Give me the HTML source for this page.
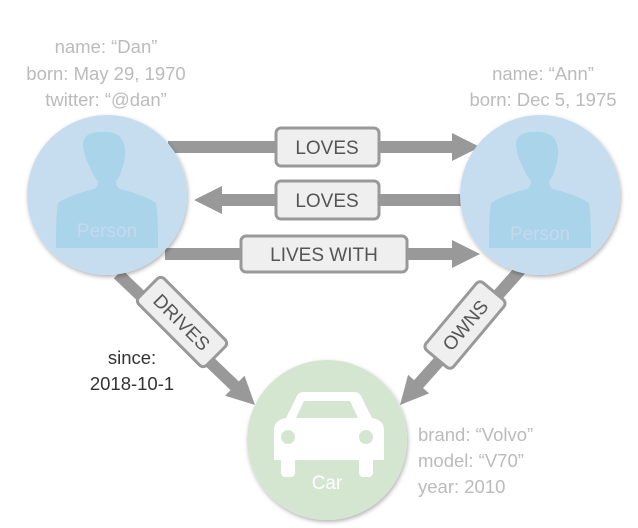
<!DOCTYPE html>
<html><head><style>
body{margin:0;background:#fff;}
svg{display:block;font-family:"Liberation Sans",sans-serif;}
</style></head><body>
<svg width="638" height="528" viewBox="0 0 638 528">
<defs>
<filter id="sh" x="-20%" y="-20%" width="140%" height="140%"><feDropShadow dx="1" dy="2" stdDeviation="2" flood-color="#000" flood-opacity="0.3"/></filter>
</defs>
<g stroke="#999" stroke-width="12" fill="none">
<line x1="168" y1="147" x2="455" y2="147"/>
<line x1="462" y1="200" x2="219" y2="200"/>
<line x1="165" y1="254" x2="455" y2="254"/>
<line x1="118" y1="274" x2="237" y2="388"/>
<line x1="522" y1="268" x2="416" y2="387"/>
</g>
<g fill="#999">
<polygon points="452,133 480,147 452,161"/>
<polygon points="222,186 194,200 222,214"/>
<polygon points="452,240 480,254 452,268"/>
<polygon points="225.1,395.8 255,405 244.5,375.6"/>
<polygon points="408.1,374.8 400,405 429.1,393.4"/>
</g>
<circle cx="107" cy="195" r="80" fill="#c6ddf0" filter="url(#sh)"/>
<circle cx="540" cy="195" r="80" fill="#c6ddf0" filter="url(#sh)"/>
<circle cx="327" cy="440" r="80" fill="#d4e6d0" filter="url(#sh)"/>
<g fill="#a9d4ea">
<path d="M83,145 q0,-12 15,-13 q22,-2 26,12 q3,10 -2,25 q-2,8 -6,12 q0,6 4,8 q24,6 36,14 q2,10 2,45 l-102,0 q0,-35 2,-45 q12,-8 36,-14 q4,-2 4,-8 q-5,-5 -8,-14 q-6,-10 -7,-22z"/>
<path d="M516,145 q0,-12 15,-13 q22,-2 26,12 q3,10 -2,25 q-2,8 -6,12 q0,6 4,8 q24,6 36,14 q2,10 2,45 l-102,0 q0,-35 2,-45 q12,-8 36,-14 q4,-2 4,-8 q-5,-5 -8,-14 q-6,-10 -7,-22z"/>
</g>
<text x="107" y="237" font-size="19" fill="#c6d8ee" text-anchor="middle">Person</text>
<text x="540" y="240" font-size="19" fill="#c6d8ee" text-anchor="middle">Person</text>
<g fill="#fff">
<path d="M300,392 h54 q6,0 8,6 l10,20 q12,2 12,12 v30 h-110 v-30 q0,-10 12,-12 l10,-20 q2,-6 8,-6z"/>
<rect x="281" y="455" width="14" height="22" rx="4"/>
<rect x="359" y="455" width="14" height="22" rx="4"/>
</g>
<path d="M304,401 h46 l8,17 h-62z" fill="#d4e6d0"/>
<circle cx="288" cy="437" r="7" fill="#d4e6d0"/>
<circle cx="366" cy="437" r="7" fill="#d4e6d0"/>
<text x="327" y="489" font-size="19" fill="#fff" text-anchor="middle">Car</text>
<g fill="#efefef" stroke="#999" stroke-width="3">
<rect x="276" y="128" width="103" height="38" rx="5"/>
<rect x="276" y="181" width="103" height="38" rx="5"/>
<rect x="241" y="236" width="166" height="36" rx="5"/>
<rect x="-48" y="-18" width="96" height="36" rx="5" transform="translate(182,322) rotate(45)"/>
<rect x="-44" y="-18" width="88" height="36" rx="5" transform="translate(465,325) rotate(-50)"/>
</g>
<g font-size="19" fill="#555" text-anchor="middle">
<text x="327" y="154">LOVES</text>
<text x="327" y="207">LOVES</text>
<text x="324" y="261">LIVES WITH</text>
<text transform="translate(182,322) rotate(45)" y="7">DRIVES</text>
<text transform="translate(465,325) rotate(-50)" y="7">OWNS</text>
</g>
<g font-size="18.5" fill="#bbb" text-anchor="middle">
<text x="106" y="53">name: “Dan”</text>
<text x="106" y="80">born: May 29, 1970</text>
<text x="106" y="106">twitter: “@dan”</text>
<text x="543" y="80">name: “Ann”</text>
<text x="543" y="106">born:  Dec 5, 1975</text>
</g>
<g font-size="18.5" fill="#bbb">
<text x="418" y="441">brand: “Volvo”</text>
<text x="418" y="467">model: “V70”</text>
<text x="418" y="493">year: 2010</text>
</g>
<g font-size="18.5" fill="#333" text-anchor="middle">
<text x="132" y="364">since:</text>
<text x="132" y="390">2018-10-1</text>
</g>
</svg>
</body></html>
